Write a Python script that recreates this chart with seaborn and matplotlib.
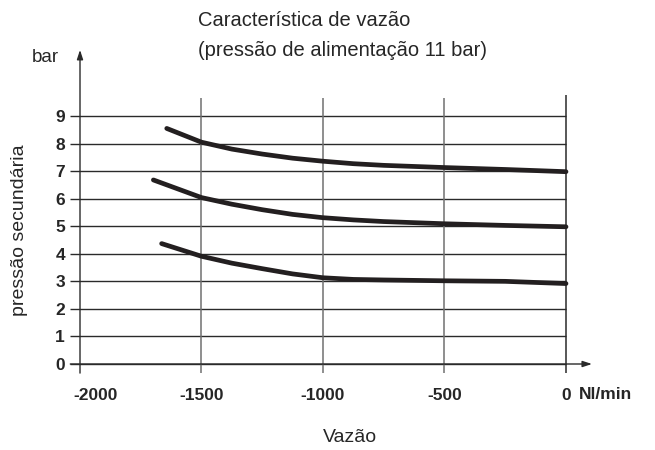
import matplotlib
matplotlib.use("Agg")
import matplotlib.pyplot as plt
import matplotlib.transforms as mtransforms
import seaborn as sns
import pandas as pd

# --- dados (vazão em Nl/min, pressão em bar) ---
vazao_7 = [-1643, -1500, -1375, -1250, -1125, -1000, -875, -750, -500, -250, 0]
pressao_7 = [8.55, 8.05, 7.8, 7.62, 7.47, 7.36, 7.27, 7.21, 7.13, 7.06, 6.98]

vazao_5 = [-1698, -1500, -1375, -1250, -1125, -1000, -875, -750, -500, -250, 0]
pressao_5 = [6.68, 6.04, 5.8, 5.6, 5.43, 5.31, 5.23, 5.17, 5.09, 5.03, 4.98]

vazao_3 = [-1664, -1500, -1375, -1250, -1125, -1000, -875, -750, -500, -250, 0]
pressao_3 = [4.37, 3.91, 3.66, 3.46, 3.27, 3.13, 3.07, 3.05, 3.02, 3.0, 2.92]

x_ticks = [-2000, -1500, -1000, -500, 0]
y_ticks = [0, 1, 2, 3, 4, 5, 6, 7, 8, 9]

df = pd.concat([
    pd.DataFrame({"vazao": vazao_7, "pressao": pressao_7, "curva": "7 bar"}),
    pd.DataFrame({"vazao": vazao_5, "pressao": pressao_5, "curva": "5 bar"}),
    pd.DataFrame({"vazao": vazao_3, "pressao": pressao_3, "curva": "3 bar"}),
])

sns.set_style("white")
plt.rcParams['font.family'] = ['Liberation Sans', 'DejaVu Sans']

fig = plt.figure(figsize=(6.55, 4.5), dpi=100)
ax = fig.add_axes([0.1073, 0.1709, 0.7965, 0.7182])

# grade
ax.hlines(y_ticks, -2040, 0, color="#2a2a2a", lw=1.0, zorder=1)
ax.vlines(x_ticks[1:-1], -0.33, 9.64, color="#707070", lw=1.1, zorder=1)
ax.vlines(0, -0.33, 9.77, color="#2a2a2a", lw=1.1, zorder=1)

sns.lineplot(data=df, x="vazao", y="pressao", units="curva", estimator=None,
             color="#231f20", lw=3.4, ax=ax, zorder=3)

ax.set_xlim(-2040, 107)
ax.set_ylim(-0.33, 11.4)
for s in ax.spines.values():
    s.set_visible(False)

# eixos com setas
seta = dict(arrowstyle="-|>,head_width=0.18,head_length=0.55", color="#2a2a2a",
            lw=1.0, shrinkA=0, shrinkB=0)
ax.annotate("", xy=(-2000, 11.4), xytext=(-2000, -0.33), arrowprops=seta)
ax.annotate("", xy=(107, 0), xytext=(-2040, 0), arrowprops=seta)

ax.set_xticks(x_ticks)
ax.set_xticklabels([str(t) for t in x_ticks], fontsize=12.5, fontweight="bold")
ax.set_yticks(y_ticks)
ax.set_yticklabels([str(t) for t in y_ticks], fontsize=12.5, fontweight="bold")
ax.tick_params(axis="x", length=0, pad=11)
ax.tick_params(axis="y", length=0, pad=3.8)
ax.set_xlabel("")
ax.set_ylabel("")

# rótulo -2000 deslocado para a direita, como no original
primeiro = ax.get_xticklabels()[0]
primeiro.set_transform(primeiro.get_transform() +
                       mtransforms.ScaledTranslation(16 / 100, 0, fig.dpi_scale_trans))

ax.text(55, -1.125, "Nl/min", fontsize=12.5, fontweight="bold", ha="left", va="center")

fig.text(350 / 655, 1 - 438 / 450, "Vazão", fontsize=14, ha="center", va="center")
fig.text(20 / 655, 1 - 230 / 450, "pressão secundária", fontsize=14, rotation=90,
         ha="center", va="center")
fig.text(45 / 655, 1 - 58 / 450, "bar", fontsize=13.5, ha="center", va="center")
fig.text(198 / 655, 1 - 21 / 450, "Característica de vazão", fontsize=14.5, ha="left", va="center")
fig.text(198 / 655, 1 - 50 / 450, "(pressão de alimentação 11 bar)", fontsize=14.5,
         ha="left", va="center")

fig.savefig("out.png", dpi=100)
